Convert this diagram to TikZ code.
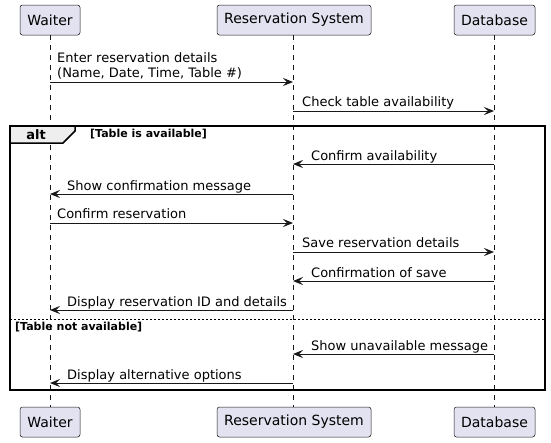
\documentclass[tikz,border=0pt]{standalone}
\usepackage{fontspec}
\setmainfont{DejaVu Sans}
\usetikzlibrary{arrows.meta,calc}
\definecolor{partfill}{HTML}{E2E2F0}
\definecolor{ink}{HTML}{181818}
\definecolor{tabfill}{HTML}{EEEEEE}
\tikzset{
  part/.style={draw=ink, fill=partfill, line width=0.5pt, rounded corners=2.5pt,
    minimum height=30pt, inner sep=0pt, font=\fontsize{14}{16}\selectfont},
  lifeline/.style={draw=ink, line width=0.5pt, dash pattern=on 5pt off 5pt},
  msg/.style={draw=ink, line width=1pt, -{Stealth[length=10pt,width=8pt,inset=4pt]}},
  lbl/.style={anchor=base west, inner sep=0pt, font=\fontsize{13}{15}\selectfont},
  frameline/.style={draw=black, line width=1.5pt},
  guard/.style={anchor=base west, inner sep=0pt, font=\fontsize{11}{13}\selectfont\bfseries},
}
\begin{document}
\begin{tikzpicture}[x=1pt,y=-1pt]
\useasboundingbox (0,0) rectangle (551,442);
\fill[white] (0,0) rectangle (551,442);
% participants (top)
\node[part, minimum width=60pt]  (wt) at (50,20)  {Waiter};
\node[part, minimum width=154pt] (rs) at (294,20) {Reservation System};
\node[part, minimum width=81pt]  (db) at (494.5,20) {Database};
% participants (bottom)
\node[part, minimum width=60pt]  (wb) at (50,422)  {Waiter};
\node[part, minimum width=154pt] (rb) at (294,422) {Reservation System};
\node[part, minimum width=81pt]  (dbb) at (494.5,422) {Database};
% lifeline coordinates
\coordinate (W) at (50,35);
\coordinate (R) at (293,35);
\coordinate (D) at (494,35);
\draw[lifeline] (W) -- (W |- wb.north);
\draw[lifeline] (R) -- (R |- rb.north);
\draw[lifeline] (D) -- (D |- dbb.north);
% alt frame
\draw[frameline] (10,126) rectangle (545,390);
\filldraw[fill=tabfill, draw=black, line width=1.5pt] (10,126) -- (75,126) -- (75,131) -- (63,143) -- (10,143) -- cycle;
\node[anchor=base, inner sep=0pt, font=\fontsize{13}{15}\selectfont\bfseries] (altlbl) at (36,139) {alt};
\node[guard] (g1) at (90,137) {[Table is available]};
\draw[draw=black, line width=1pt, dash pattern=on 2pt off 2pt] (10,319) -- (545,319);
\node[guard] (g2) at (15,330) {[Table not available]};
% messages
\node[lbl] (t1a) at (57,62) {Enter reservation details};
\node[lbl] (t1b) at (57,77) {(Name, Date, Time, Table \#)};
\draw[msg] (W |- 0,82) -- (R |- 0,82);
\node[lbl] (t2) at (302,106) {Check table availability};
\draw[msg] (R |- 0,111) -- (D |- 0,111);
\node[lbl] (t3) at (311,160) {Confirm availability};
\draw[msg] (D |- 0,164) -- (R |- 0,164);
\node[lbl] (t4) at (67,190) {Show confirmation message};
\draw[msg] (R |- 0,194) -- (W |- 0,194);
\node[lbl] (t5) at (57,218) {Confirm reservation};
\draw[msg] (W |- 0,223) -- (R |- 0,223);
\node[lbl] (t6) at (302,247) {Save reservation details};
\draw[msg] (R |- 0,252) -- (D |- 0,252);
\node[lbl] (t7) at (311,277) {Confirmation of save};
\draw[msg] (D |- 0,281) -- (R |- 0,281);
\node[lbl] (t8) at (67,306) {Display reservation ID and details};
\draw[msg] (R |- 0,310) -- (W |- 0,310);
\node[lbl] (t9) at (311,350) {Show unavailable message};
\draw[msg] (D |- 0,354) -- (R |- 0,354);
\node[lbl] (t10) at (67,379) {Display alternative options};
\draw[msg] (R |- 0,383) -- (W |- 0,383);
\end{tikzpicture}
\end{document}
